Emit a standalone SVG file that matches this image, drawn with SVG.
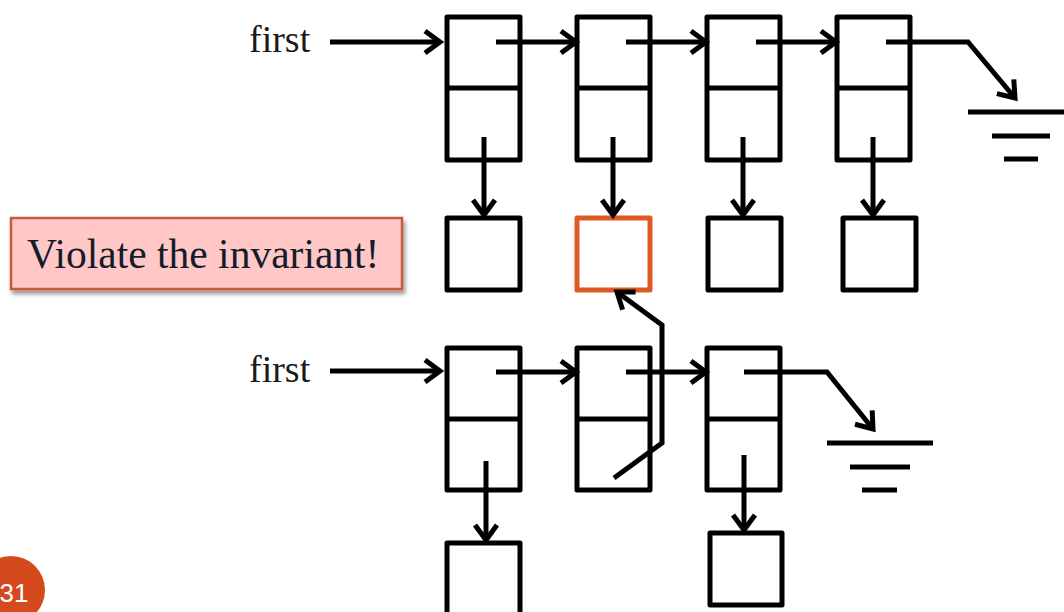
<svg xmlns="http://www.w3.org/2000/svg" width="1064" height="612" viewBox="0 0 1064 612">
<style>
.box{fill:#fff;stroke:#000;stroke-width:5;stroke-linejoin:round}
.ln{fill:none;stroke:#000;stroke-width:5;stroke-linejoin:miter}
.arr{fill:none;stroke:#000;stroke-width:5;marker-end:url(#ah)}
.lbl{font-family:"Liberation Serif",serif;font-size:38px;fill:#1a1a1a}
</style>
<defs>
<marker id="ah" markerUnits="userSpaceOnUse" viewBox="-20 -15 30 30" markerWidth="30" markerHeight="30" refX="0" refY="0" orient="auto">
<path d="M-15,-11 L0,0 L-15,11" fill="none" stroke="#000" stroke-width="5" stroke-linejoin="miter"/>
</marker>
<filter id="sh" x="-10%" y="-20%" width="120%" height="150%">
<feDropShadow dx="2" dy="4" stdDeviation="2" flood-color="#000" flood-opacity="0.4"/>
</filter>
</defs>
<rect width="1064" height="612" fill="#fff"/>

<g id="callout">
<rect x="11" y="218" width="391" height="71" fill="#ffc7c5" stroke="#c9583c" stroke-width="2.5" filter="url(#sh)"/>
<text x="27" y="268" font-family="Liberation Serif,serif" font-size="41.5" fill="#141c2c">Violate the invariant!</text>
</g>

<g id="label-first-top"><text class="lbl" x="249" y="52">first</text></g>
<g id="label-first-bottom"><text class="lbl" x="249" y="382">first</text></g>

<g id="top-node-1"><rect class="box" x="447" y="17" width="73" height="143"/><line class="ln" x1="447" y1="88" x2="520" y2="88"/></g>
<g id="top-node-2"><rect class="box" x="577" y="17" width="73" height="143"/><line class="ln" x1="577" y1="88" x2="650" y2="88"/></g>
<g id="top-node-3"><rect class="box" x="707" y="17" width="73" height="143"/><line class="ln" x1="707" y1="88" x2="780" y2="88"/></g>
<g id="top-node-4"><rect class="box" x="837" y="17" width="73" height="143"/><line class="ln" x1="837" y1="88" x2="910" y2="88"/></g>

<g id="top-val-1"><rect class="box" x="447" y="218" width="73" height="72"/></g>
<g id="top-val-2"><rect x="577" y="218" width="73" height="72" fill="#fff" stroke="#dd5a24" stroke-width="5" stroke-linejoin="round"/></g>
<g id="top-val-3"><rect class="box" x="708" y="218" width="73" height="72"/></g>
<g id="top-val-4"><rect class="box" x="843" y="218" width="73" height="72"/></g>

<g id="top-ground">
<line class="ln" x1="968" y1="112" x2="1064" y2="112"/>
<line class="ln" x1="992" y1="136" x2="1050" y2="136"/>
<line class="ln" x1="1004" y1="159" x2="1038" y2="159"/>
</g>

<g id="bot-node-1"><rect class="box" x="447" y="348" width="73" height="142"/><line class="ln" x1="447" y1="419" x2="520" y2="419"/></g>
<g id="bot-node-2"><rect class="box" x="577" y="348" width="73" height="142"/><line class="ln" x1="577" y1="419" x2="650" y2="419"/></g>
<g id="bot-node-3"><rect class="box" x="707" y="348" width="73" height="142"/><line class="ln" x1="707" y1="419" x2="780" y2="419"/></g>

<g id="bot-val-1"><rect class="box" x="447" y="543" width="73" height="75"/></g>
<g id="bot-val-3"><rect class="box" x="710" y="533" width="72" height="72"/></g>

<g id="bot-ground">
<line class="ln" x1="827" y1="443" x2="933" y2="443"/>
<line class="ln" x1="850" y1="467" x2="910" y2="467"/>
<line class="ln" x1="862" y1="490" x2="897" y2="490"/>
</g>

<g id="page-number">
<circle cx="11" cy="590" r="34" fill="#d44a1c"/>
<text x="14" y="602" text-anchor="middle" font-family="Liberation Sans,sans-serif" font-size="26" fill="#fff">31</text>
</g>

<g id="connectors">
<line class="arr" x1="330" y1="42" x2="440" y2="42"/>
<line class="arr" x1="496" y1="42" x2="576" y2="42"/>
<line class="arr" x1="626" y1="42" x2="706" y2="42"/>
<line class="arr" x1="756" y1="42" x2="836" y2="42"/>
<polyline class="arr" points="886,42 968,42 1015,98"/>
<line class="arr" x1="484" y1="137" x2="484" y2="215"/>
<line class="arr" x1="613" y1="137" x2="613" y2="215"/>
<line class="arr" x1="743" y1="137" x2="743" y2="215"/>
<line class="arr" x1="873" y1="137" x2="873" y2="215"/>

<line class="arr" x1="330" y1="371" x2="440" y2="371"/>
<line class="arr" x1="496" y1="372" x2="576" y2="372"/>
<line class="arr" x1="626" y1="372" x2="706" y2="372"/>
<polyline class="arr" points="744,372 827,372 873,429"/>
<line class="arr" x1="486" y1="461" x2="486" y2="540"/>
<line class="arr" x1="744" y1="455" x2="744" y2="530"/>
<polyline class="arr" points="614,478 662,443 662,325 617,292"/>
</g>
</svg>
